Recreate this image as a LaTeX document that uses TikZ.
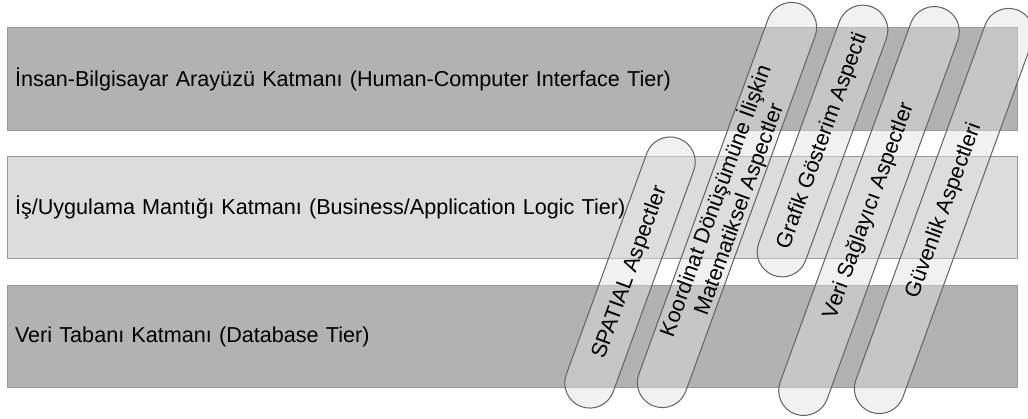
\documentclass[tikz,border=0pt]{standalone}
\usepackage{fontspec}
\setmainfont{Liberation Sans}
\usetikzlibrary{shapes.misc}

\tikzset{every picture/.style={line width=0.75pt}}
\tikzset{
  tier/.style={draw=black!40, rectangle, minimum width=757.5pt, minimum height=77pt,
    inner xsep=6pt, text width=745.5pt, align=left, font=\fontsize{16.2}{19}\selectfont},
  aspect/.style={draw=black!62, rounded rectangle, fill=black!12, fill opacity=0.45,
    text opacity=1, rotate=70, minimum height=37.5pt, inner sep=0pt, align=center,
    font=\fontsize{16.2}{18.5}\selectfont},
}
\definecolor{tierdark}{HTML}{B2B2B2}
\definecolor{tierlight}{HTML}{DCDCDC}

\begin{document}
\begin{tikzpicture}[x=0.75pt,y=0.75pt,yscale=-1,xscale=1]
	\useasboundingbox (0,0) rectangle (1028,418);
	
	% Tier bars
	\node [tier, fill=tierdark] (hci) at (512,79) {İnsan-Bilgisayar Arayüzü Katmanı (Human-Computer Interface Tier)};
	\node [tier, fill=tierlight] (logic) at (512,207.5) {İş/Uygulama Mantığı Katmanı (Business/Application Logic Tier)};
	\node [tier, fill=tierdark] (db) at (512,336.5) {Veri Tabanı Katmanı (Database Tier)};
	
	% Aspect capsules
	\node [aspect, minimum width=214pt] (spatial) at (630,272.5) {SPATIAL Aspectler};
	\node [aspect, minimum width=321pt] (coord) at (727,205) {Koordinat Dönüşümüne İlişkin\\Matematiksel Aspectler};
	\node [aspect, minimum width=214.5pt] (graphic) at (822.5,141) {Grafik Gösterim Aspecti};
	\node [aspect, minimum width=324pt] (provider) at (869,211) {Veri Sağlayıcı Aspectler};
	\node [aspect, minimum width=321pt] (security) at (944,211) {Güvenlik Aspectleri};
	
\end{tikzpicture}
\end{document}
